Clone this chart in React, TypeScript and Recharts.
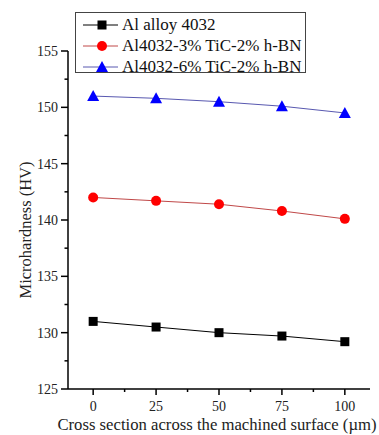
import { Line, LineChart, XAxis, YAxis } from 'recharts'

const positions = [0, 25, 50, 75, 100]
const alloy = [131.0, 130.5, 130.0, 129.7, 129.2]
const tic3 = [142.0, 141.7, 141.4, 140.8, 140.1]
const tic6 = [151.0, 150.8, 150.5, 150.1, 149.5]

const xMajor = [0, 25, 50, 75, 100]
const xTicks = [0, 12.5, 25, 37.5, 50, 62.5, 75, 87.5, 100]
const yMajor = [125, 130, 135, 140, 145, 150, 155]
const yTicks = [125, 127.5, 130, 132.5, 135, 137.5, 140, 142.5, 145, 147.5, 150, 152.5, 155]

const seriesNames = ['Al alloy 4032', 'Al4032-3% TiC-2% h-BN', 'Al4032-6% TiC-2% h-BN']
const xTitle = 'Cross section across the machined surface (µm)'
const yTitle = 'Microhardness (HV)'

const data = positions.map((p, i) => ({ pos: p, a: alloy[i], b: tic3[i], c: tic6[i] }))

const FONT = '"Liberation Serif", "Times New Roman", serif'

function Square({ cx, cy, fill }: any) {
  if (cx == null || cy == null) return <g />
  return <rect x={cx - 4.5} y={cy - 4.5} width={9} height={9} fill={fill} />
}

function Circle({ cx, cy, fill }: any) {
  if (cx == null || cy == null) return <g />
  return <circle cx={cx} cy={cy} r={5} fill={fill} />
}

function Triangle({ cx, cy, fill }: any) {
  if (cx == null || cy == null) return <g />
  return <polygon points={`${cx},${cy - 6} ${cx - 6},${cy + 5} ${cx + 6},${cy + 5}`} fill={fill} />
}

function XTick({ x, y, payload }: any) {
  const major = xMajor.includes(payload.value)
  return (
    <g>
      <line x1={x} x2={x} y1={y} y2={y + (major ? 6 : 3)} stroke="#000" strokeWidth={1.5} />
      {major && (
        <text x={x} y={y + 22} textAnchor="middle" fontSize={14} fontFamily={FONT} fill="#222">
          {payload.value}
        </text>
      )}
    </g>
  )
}

function YTick({ x, y, payload }: any) {
  const major = yMajor.includes(payload.value)
  return (
    <g>
      <line x1={x - (major ? 7 : 3.5)} x2={x} y1={y} y2={y} stroke="#000" strokeWidth={1.5} />
      {major && (
        <text x={x - 10} y={y + 5} textAnchor="end" fontSize={14} fontFamily={FONT} fill="#222">
          {payload.value}
        </text>
      )}
    </g>
  )
}

function XTitle({ viewBox }: any) {
  const { x, y, width, height } = viewBox
  return (
    <text x={x + width / 2 - 2} y={y + height - 5} textAnchor="middle" fontSize={16.7} fontFamily={FONT} fill="#222">
      {xTitle}
    </text>
  )
}

function YTitle({ viewBox }: any) {
  const { x, y, height } = viewBox
  const cx = x + 25
  const cy = y + height / 2 + 10
  return (
    <text
      x={cx}
      y={cy}
      transform={`rotate(-90, ${cx}, ${cy})`}
      textAnchor="middle"
      dominantBaseline="central"
      fontSize={16.5}
      fontFamily={FONT}
      fill="#222"
    >
      {yTitle}
    </text>
  )
}

const legendRows = [
  { name: seriesNames[0], line: '#000', fill: '#000', Marker: Square },
  { name: seriesNames[1], line: '#c04848', fill: '#ff0000', Marker: Circle },
  { name: seriesNames[2], line: '#5858b0', fill: '#0000ff', Marker: Triangle },
]

export default function App() {
  return (
    <div style={{ position: 'absolute', left: 0, top: 0, width: 379, height: 435, background: '#fff', fontFamily: FONT }}>
      <LineChart width={379} height={435} data={data} margin={{ top: 51, right: 9, bottom: 0, left: 0 }}>
        <XAxis
          dataKey="pos"
          type="number"
          domain={[-10, 110]}
          ticks={xTicks}
          interval={0}
          tickSize={0}
          tickMargin={0}
          tickLine={false}
          tick={<XTick />}
          axisLine={{ stroke: '#000', strokeWidth: 1.5 }}
          height={46}
          label={{ content: (p: any) => <XTitle viewBox={p.viewBox} /> }}
        />
        <YAxis
          type="number"
          domain={[125, 155]}
          ticks={yTicks}
          interval={0}
          tickSize={0}
          tickMargin={0}
          tickLine={false}
          tick={<YTick />}
          axisLine={{ stroke: '#000', strokeWidth: 1.5 }}
          width={68}
          label={{ content: (p: any) => <YTitle viewBox={p.viewBox} /> }}
        />
        <Line dataKey="a" stroke="#000" strokeWidth={1} isAnimationActive={false} dot={<Square fill="#000" />} />
        <Line dataKey="b" stroke="#c04848" strokeWidth={1} isAnimationActive={false} dot={<Circle fill="#ff0000" />} />
        <Line dataKey="c" stroke="#5858b0" strokeWidth={1} isAnimationActive={false} dot={<Triangle fill="#0000ff" />} />
      </LineChart>
      <div
        style={{
          position: 'absolute',
          left: 75,
          top: 12,
          width: 231,
          height: 61,
          border: '1px solid #444',
          background: '#fff',
          boxSizing: 'border-box',
          fontFamily: FONT,
          fontSize: 17,
          color: '#111',
        }}
      >
        {legendRows.map((r, i) => (
          <div key={r.name} style={{ position: 'absolute', left: 0, top: 2 + i * 21, height: 20, display: 'flex', alignItems: 'center' }}>
            <svg width={46} height={20} style={{ display: 'block' }}>
              <line x1={7} x2={42} y1={10} y2={10} stroke={r.line} strokeWidth={1} />
              <r.Marker cx={26} cy={10} fill={r.fill} />
            </svg>
            <span style={{ whiteSpace: 'nowrap' }}>{r.name}</span>
          </div>
        ))}
      </div>
    </div>
  )
}
